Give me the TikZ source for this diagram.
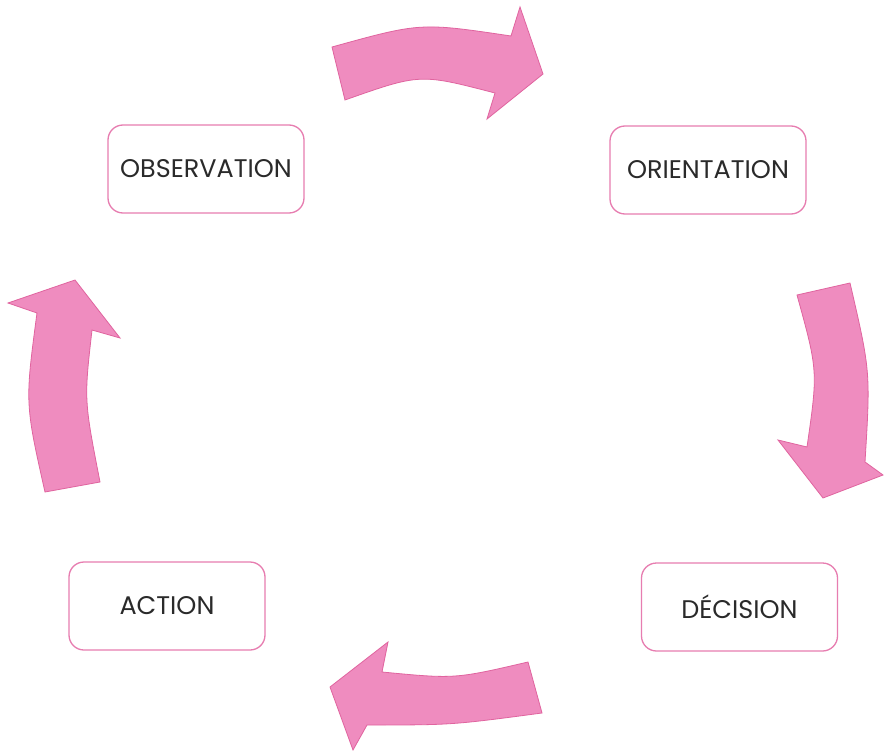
\documentclass[tikz,border=0pt]{standalone}
\usepackage{fontspec}
\setmainfont{Poppins}
\definecolor{arrfill}{HTML}{EF8CBF}
\definecolor{arredge}{HTML}{E0649F}
\definecolor{boxedge}{HTML}{E77DB0}
\definecolor{txt}{HTML}{2A2A2A}
\tikzset{
  stagebox/.style={draw=boxedge, line width=1.3pt, rounded corners=15pt, fill=white,
    minimum width=196pt, minimum height=88pt, text=txt,
    font=\fontsize{25.5}{28}\selectfont, inner sep=0pt},
  bigarrow/.style={fill=arrfill, draw=arredge, line width=0.8pt, line join=miter}
}
\begin{document}
\begin{tikzpicture}[x=1pt,y=-1pt]
\useasboundingbox (0,0) rectangle (884,752);
\fill[white] (0,0) rectangle (884,752);

\node[stagebox] (obs) at (206,169) {OBSERVATION};
\node[stagebox] (ori) at (708,170) {ORIENTATION};
\node[stagebox] (dec) at (739.5,607) {DÉCISION};
\node[stagebox] (act) at (167,606) {ACTION};

% top arrow (observation -> orientation)
\draw[bigarrow] (332,47) .. controls (420.5,22.5) .. (511,36) -- (520,7) -- (543,74)
  -- (487,119) -- (495,93) .. controls (420,73.5) .. (345,100) -- cycle;

% right arrow (orientation -> decision)
\draw[bigarrow] (797,295) -- (850,283) .. controls (870.5,371.5) .. (865,462)
  -- (883,475) -- (823,498) -- (778,440) -- (807,447) .. controls (818,371) .. cycle;

% bottom arrow (decision -> action)
\draw[bigarrow] (528,662) -- (542,713) .. controls (452,725) .. (367,725)
  -- (353,750) -- (330,687) -- (388,642) -- (382,672) .. controls (455,679) .. cycle;

% left arrow (action -> observation)
\draw[bigarrow] (45,492) .. controls (25,403) .. (37,313) -- (8,303) -- (75,280)
  -- (120,338) -- (92,330) .. controls (84,400) .. (100,482) -- cycle;
\end{tikzpicture}
\end{document}
